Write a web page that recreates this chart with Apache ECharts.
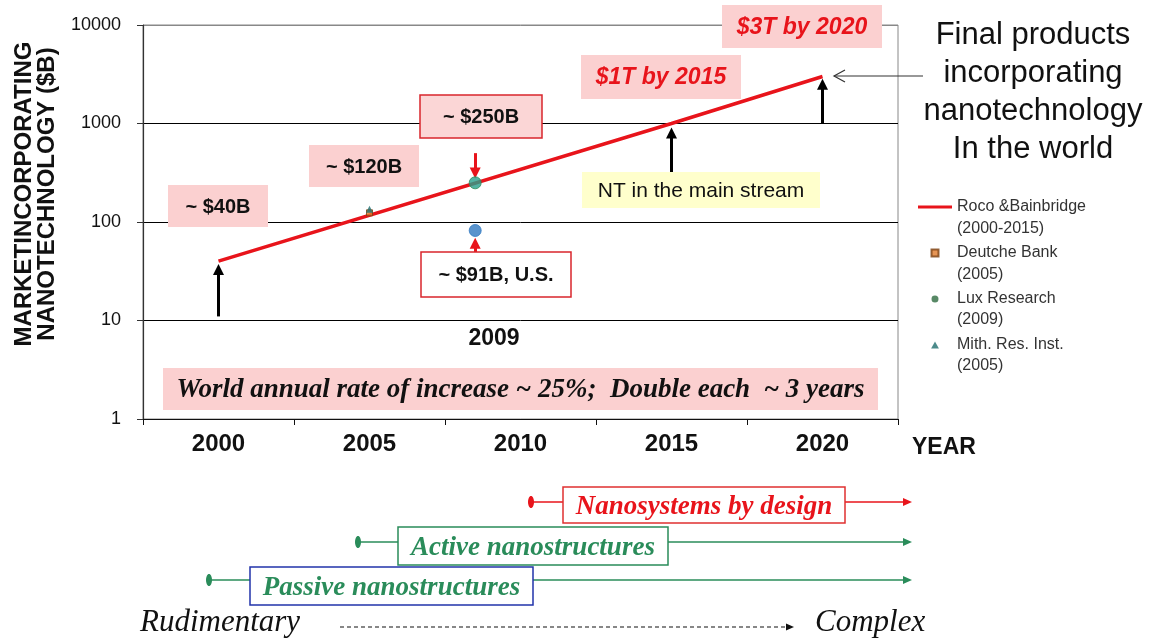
<!DOCTYPE html>
<html><head><meta charset="utf-8">
<script src="https://cdn.jsdelivr.net/npm/echarts@6/dist/echarts.min.js"></script>
<style>html,body{margin:0;padding:0;background:#fff}#c{width:1157px;height:638px}</style>
</head><body><div id="c"></div>
<script>
// ---- data ----
const yearLabels = ['2000', '2005', '2010', '2015', '2020'];
const rocoYears = [2000, 2015, 2020];
const rocoValues = [40, 1000, 3000];
const deutcheYears = [2005];
const deutcheValues = [124];
const luxYears = [2008.5, 2008.5];
const luxValues = [250, 82];
const mithYears = [2005];
const mithValues = [135];
// arrows: year, from value, to value
const blackArrowYears = [2000, 2015, 2020];
const blackArrowFrom = [11, 300, 1000];
const blackArrowTo = [33, 800, 2500];
const redArrowYears = [2008.5, 2008.5];
const redArrowFrom = [500, 48];
const redArrowTo = [314, 61];

const SANS = "'Liberation Sans', Arial, sans-serif";
const SERIF = "'Liberation Serif', 'Times New Roman', serif";
const RED = '#e8141b';
const PINK = '#fbd0d0';
const GREEN = '#2a8c5a';

const zip = (a, b) => a.map((v, i) => [v, b[i]]);

function box(x1, y1, x2, y2, fill, stroke, text, font, color, dy) {
  return [
    {type: 'rect', z: 50, shape: {x: x1, y: y1, width: x2 - x1, height: y2 - y1},
     style: {fill: fill, stroke: stroke || null, lineWidth: stroke ? 1.5 : 0}},
    {type: 'text', z: 51, style: {text: text, x: (x1 + x2) / 2, y: (y1 + y2) / 2 + (dy || 1), font: font, fill: color,
     align: 'center', verticalAlign: 'middle'}}
  ];
}
function hline(x1, x2, y, color, w, dash) {
  return {type: 'line', z: 40, shape: {x1: x1, y1: y, x2: x2, y2: y}, style: {stroke: color, lineWidth: w || 1.5, lineDash: dash || null}};
}
function arrowHead(x, y, color, len, half) {
  return {type: 'polygon', z: 41, shape: {points: [[x, y], [x - len, y - half], [x - len, y + half]]}, style: {fill: color}};
}
function dot(x, y, color) {
  return {type: 'ellipse', z: 42, shape: {cx: x, cy: y, rx: 3, ry: 6}, style: {fill: color}};
}

const graphics = [].concat(
  box(168, 185, 268, 227, PINK, null, '~ $40B', 'bold 20px ' + SANS, '#111'),
  box(309, 145, 419, 187, PINK, null, '~ $120B', 'bold 20px ' + SANS, '#111'),
  box(420, 95, 542, 138, '#fbd6d6', '#d9262c', '~ $250B', 'bold 20px ' + SANS, '#111'),
  box(421, 252, 571, 297, '#ffffff', '#d9262c', '~ $91B, U.S.', 'bold 20px ' + SANS, '#111'),
  box(581, 55, 741, 99, PINK, null, '$1T by 2015', 'italic bold 23px ' + SANS, RED),
  box(722, 5, 882, 48, PINK, null, '$3T by 2020', 'italic bold 23px ' + SANS, RED),
  box(582, 172, 820, 208, '#ffffcc', null, 'NT in the main stream', '21px ' + SANS, '#111'),
  box(163, 368, 878, 410, PINK, null, 'World annual rate of increase ~ 25%;  Double each  ~ 3 years', 'italic bold 27px ' + SERIF, '#111'),
  [{type: 'text', z: 51, style: {text: '2009', x: 494, y: 339, font: 'bold 23px ' + SANS, fill: '#111', align: 'center', verticalAlign: 'middle'}}],
  [{type: 'text', z: 51, style: {text: 'Final products\nincorporating\nnanotechnology\nIn the world', x: 1033, y: 92,
     font: '31px ' + SANS, lineHeight: 38, fill: '#111', align: 'center', verticalAlign: 'middle'}}],
  [{type: 'polyline', z: 51, shape: {points: [[923, 76], [834, 76]]}, style: {stroke: '#333', lineWidth: 1.2}},
   {type: 'polyline', z: 51, shape: {points: [[845, 70], [834, 76], [845, 82]]}, style: {stroke: '#333', lineWidth: 1.2, fill: null}}],
  // legend second lines
  [
    {type: 'text', z: 51, style: {text: '(2000-2015)', x: 957, y: 229, font: '16px ' + SANS, fill: '#333', verticalAlign: 'middle'}},
    {type: 'text', z: 51, style: {text: '(2005)', x: 957, y: 275, font: '16px ' + SANS, fill: '#333', verticalAlign: 'middle'}},
    {type: 'text', z: 51, style: {text: '(2009)', x: 957, y: 320, font: '16px ' + SANS, fill: '#333', verticalAlign: 'middle'}},
    {type: 'text', z: 51, style: {text: '(2005)', x: 957, y: 366, font: '16px ' + SANS, fill: '#333', verticalAlign: 'middle'}}
  ],
  // timeline
  [hline(531, 563, 502, RED), hline(845, 904, 502, RED), arrowHead(912, 502, RED, 9, 4), dot(531, 502, RED)],
  box(563, 487, 845, 523, '#fff', '#e03030', 'Nanosystems by design', 'italic bold 27px ' + SERIF, RED, 2),
  [hline(358, 398, 542, GREEN), hline(668, 904, 542, GREEN), arrowHead(912, 542, GREEN, 9, 4), dot(358, 542, GREEN)],
  box(398, 527, 668, 565, '#fff', GREEN, 'Active nanostructures', 'italic bold 27px ' + SERIF, GREEN, 2),
  [hline(209, 250, 580, GREEN), hline(533, 904, 580, GREEN), arrowHead(912, 580, GREEN, 9, 4), dot(209, 580, GREEN)],
  box(250, 567, 533, 605, '#fff', '#2233aa', 'Passive nanostructures', 'italic bold 27px ' + SERIF, GREEN, 2),
  [
    {type: 'text', z: 51, style: {text: 'Rudimentary', x: 140, y: 623, font: 'italic 31px ' + SERIF, fill: '#111', verticalAlign: 'middle'}},
    {type: 'text', z: 51, style: {text: 'Complex', x: 815, y: 623, font: 'italic 31px ' + SERIF, fill: '#111', verticalAlign: 'middle'}},
    hline(340, 786, 627, '#111', 1.2, [4, 3]),
    arrowHead(794, 627, '#111', 8, 3.5)
  ]
);

const arrowLines = [];
blackArrowYears.forEach((x, i) => arrowLines.push([
  {coord: [x, blackArrowFrom[i]], lineStyle: {color: '#000', width: 3, type: 'solid'}},
  {coord: [x, blackArrowTo[i]]}
]));
redArrowYears.forEach((x, i) => arrowLines.push([
  {coord: [x, redArrowFrom[i]], lineStyle: {color: RED, width: 3, type: 'solid'}},
  {coord: [x, redArrowTo[i]]}
]));

const option = {
  animation: false,
  backgroundColor: '#fff',
  grid: {left: 143, right: 259, top: 25, bottom: 219, show: true, borderColor: '#888', borderWidth: 1},
  xAxis: [
    {type: 'category', data: yearLabels, boundaryGap: true,
     axisLine: {lineStyle: {color: '#111', width: 1.2}},
     axisTick: {show: true, length: 6, lineStyle: {color: '#111'}},
     axisLabel: {fontFamily: SANS, fontSize: 24, fontWeight: 'bold', color: '#111', margin: 13},
     splitLine: {show: false},
     name: 'YEAR', nameLocation: 'end', nameGap: 14,
     nameTextStyle: {fontFamily: SANS, fontSize: 23, fontWeight: 'bold', color: '#111', verticalAlign: 'top', padding: [17, 0, 0, 0]}},
    {type: 'value', min: 1997.5, max: 2022.5, show: false}
  ],
  yAxis: {type: 'log', logBase: 10, min: 1, max: 10000,
    axisLine: {show: true, lineStyle: {color: '#333', width: 1.2}},
    axisTick: {show: true, length: 6, lineStyle: {color: '#333'}},
    minorTick: {show: false},
    axisLabel: {fontFamily: SANS, fontSize: 18, color: '#111', margin: 22, formatter: v => String(v)},
    splitLine: {show: true, lineStyle: {color: ['#000', '#000', '#000', '#000', '#888'], width: 1}},
    name: 'MARKETINCORPORATING\nNANOTECHNOLOGY ($B)', nameLocation: 'middle', nameRotate: 90, nameGap: 84,
    nameTextStyle: {fontFamily: SANS, fontSize: 24, fontWeight: 'bold', color: '#111', lineHeight: 23, padding: [0, 0, 0, 56]}
  },
  legend: {
    orient: 'vertical', left: 918, top: 196, padding: 0, itemWidth: 34, itemHeight: 7, itemGap: 24, selectedMode: false,
    symbolKeepAspect: true,
    textStyle: {fontFamily: SANS, fontSize: 16, color: '#333', lineHeight: 22},
    data: [
      {name: 'Roco &Bainbridge', icon: 'path://M0,0H34V3.2H0Z'},
      {name: 'Deutche Bank', icon: 'path://M0,0H10V10H0Z'},
      {name: 'Lux Research', icon: 'path://M5,0A5,5,0,1,1,4.99,0Z'},
      {name: 'Mith. Res. Inst.', icon: 'path://M5,0L10,9H0Z'}
    ]
  },
  graphic: {elements: graphics},
  series: [
    {name: 'Roco &Bainbridge', type: 'line', xAxisIndex: 1, data: zip(rocoYears, rocoValues),
     symbol: 'none', lineStyle: {color: RED, width: 3.5}, itemStyle: {color: RED}, z: 3,
     markLine: {silent: true, animation: false, symbol: ['none', 'triangle'], symbolSize: 11,
       label: {show: false}, data: arrowLines}},
    {name: 'Deutche Bank', type: 'scatter', xAxisIndex: 1, data: zip(deutcheYears, deutcheValues),
     symbol: 'rect', symbolSize: 6, itemStyle: {color: '#e07b2a', borderColor: '#7a4010', borderWidth: 1}, z: 4},
    {name: 'Lux Research', type: 'scatter', xAxisIndex: 1,
     data: [
       {value: [luxYears[0], luxValues[0]], itemStyle: {color: '#27a08c', borderColor: '#2a8c5a', borderWidth: 1}},
       {value: [luxYears[1], luxValues[1]], itemStyle: {color: '#2f78c0', borderColor: '#2f78c0'}}
     ],
     symbol: 'circle', symbolSize: 12, itemStyle: {color: '#2e6b40'}, z: 5},
    {name: 'Mith. Res. Inst.', type: 'scatter', xAxisIndex: 1, data: zip(mithYears, mithValues),
     symbol: 'triangle', symbolSize: 7, itemStyle: {color: '#1f6e6e'}, z: 4}
  ]
};
const chart = echarts.init(document.getElementById('c'));
chart.setOption(option);
</script></body></html>
